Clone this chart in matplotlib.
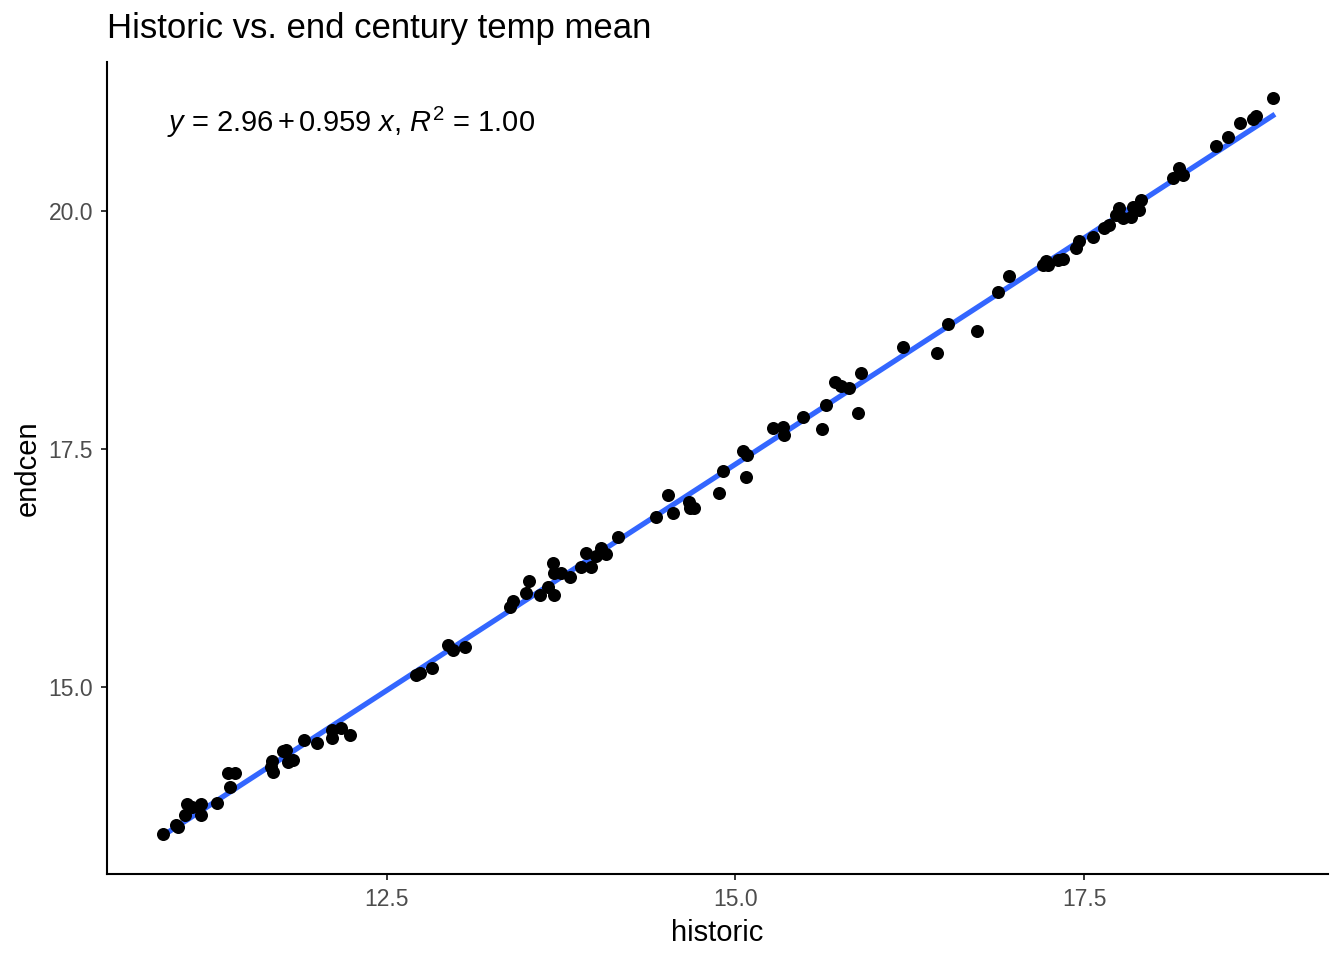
import numpy as np
import matplotlib
matplotlib.use("Agg")
import matplotlib.pyplot as plt

plt.rcParams['font.family'] = ['Liberation Sans', 'DejaVu Sans']
plt.rcParams['mathtext.fontset'] = 'custom'
plt.rcParams['mathtext.rm'] = 'Liberation Sans'
plt.rcParams['mathtext.it'] = 'Liberation Sans:italic'

# valores
historic = [10.898, 11.005, 10.994, 11.053, 11.069, 11.103, 11.173, 11.173, 11.284, 11.375,
            11.363, 11.411, 11.678, 11.686, 11.674, 11.757, 11.782, 11.793, 11.829, 11.905,
            12.004, 12.111, 12.176, 12.111, 12.240, 12.708, 12.741, 12.824, 12.939, 12.975,
            13.059, 13.381, 13.405, 13.501, 13.524, 13.596, 13.655, 13.703, 13.691, 13.703,
            13.751, 13.811, 13.895, 13.966, 13.931, 14.038, 14.069, 14.002, 14.157, 14.432,
            14.515, 14.551, 14.665, 14.671, 14.706, 14.880, 14.909, 15.057, 15.081, 15.072,
            15.267, 15.339, 15.349, 15.482, 15.621, 15.645, 15.716, 15.757, 15.812, 15.900,
            15.876, 16.203, 16.442, 16.521, 16.729, 16.879, 16.958, 17.201, 17.221, 17.237,
            17.309, 17.345, 17.441, 17.459, 17.564, 17.643, 17.679, 17.751, 17.727, 17.774,
            17.835, 17.846, 17.906, 17.894, 18.133, 18.175, 18.209, 18.443, 18.532, 18.615,
            18.711, 18.730, 18.849]
endcen = [13.456, 13.529, 13.550, 13.655, 13.771, 13.743, 13.771, 13.655, 13.778, 13.953,
          14.093, 14.093, 14.226, 14.110, 14.157, 14.331, 14.338, 14.215, 14.233, 14.443,
          14.409, 14.548, 14.566, 14.461, 14.496, 15.126, 15.150, 15.200, 15.441, 15.389,
          15.423, 15.837, 15.906, 15.984, 16.117, 15.966, 16.054, 15.966, 16.299, 16.194,
          16.194, 16.159, 16.257, 16.264, 16.404, 16.457, 16.397, 16.376, 16.579, 16.783,
          17.017, 16.825, 16.946, 16.877, 16.877, 17.035, 17.272, 17.479, 17.437, 17.209,
          17.717, 17.728, 17.647, 17.839, 17.707, 17.962, 18.207, 18.165, 18.144, 18.295,
          17.881, 18.568, 18.512, 18.813, 18.739, 19.152, 19.317, 19.433, 19.478, 19.433,
          19.485, 19.493, 19.608, 19.688, 19.730, 19.818, 19.853, 20.028, 19.958, 19.923,
          19.940, 20.045, 20.116, 20.011, 20.343, 20.449, 20.378, 20.683, 20.780, 20.921,
          20.963, 20.998, 21.184]
ecuacion = r'$y$ = 2.96$\,$+$\,$0.959 $x$, $R^2$ = 1.00'

x = np.array(historic)
y = np.array(endcen)

# recta de regresion lineal
pendiente, corte = np.polyfit(x, y, 1)
xs = np.linspace(x.min(), x.max(), 100)

fig = plt.figure(figsize=(13.44, 9.6), dpi=100)
ax = fig.add_axes([0.0796, 0.0896, 0.9085, 0.8458])

ax.plot(xs, corte + pendiente * xs, color='#3366FF', lw=3.8, zorder=2)
ax.scatter(x, y, s=88, color='black', lw=0, zorder=3)

ax.text(10.925, 20.93, ecuacion, ha='left', va='center', fontsize=21)

ax.set_xlim(10.497, 19.245)
ax.set_ylim(13.036, 21.565)
ax.set_xticks([12.5, 15.0, 17.5])
ax.set_yticks([15.0, 17.5, 20.0])
ax.set_xticklabels(['12.5', '15.0', '17.5'])
ax.set_yticklabels(['15.0', '17.5', '20.0'])

for lado in ['top', 'right']:
    ax.spines[lado].set_visible(False)
for lado in ['left', 'bottom']:
    ax.spines[lado].set_linewidth(1.5)
ax.tick_params(axis='both', length=4, width=1.1, labelsize=16.5,
               labelcolor='#4D4D4D', pad=6)

ax.set_xlabel('historic', fontsize=21, labelpad=6)
ax.set_ylabel('endcen', fontsize=21, labelpad=5)
ax.set_title('Historic vs. end century temp mean', loc='left', fontsize=25, pad=17)

fig.savefig('out.png', dpi=100)
